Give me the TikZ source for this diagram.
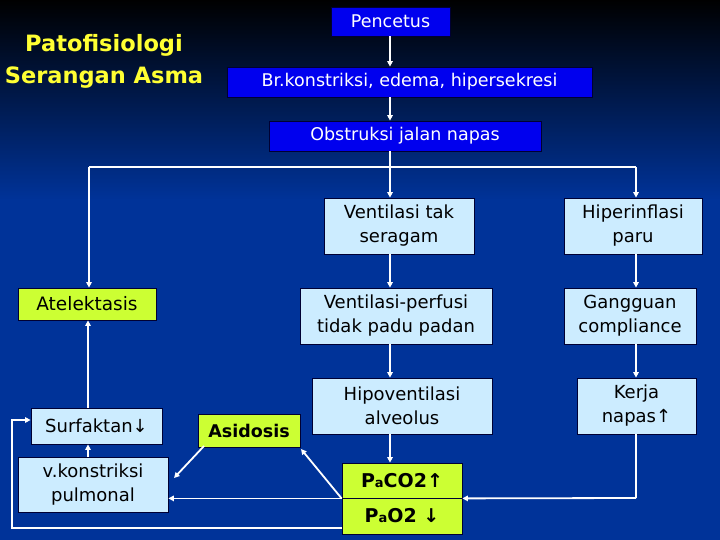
\documentclass[tikz,border=0pt]{standalone}
\usepackage{fontspec}
\setmainfont{DejaVu Sans}
\usetikzlibrary{arrows.meta}
\definecolor{bgblue}{RGB}{0,51,153}
\definecolor{boxblue}{RGB}{0,0,238}
\definecolor{lightbox}{RGB}{204,236,255}
\definecolor{lime}{RGB}{204,255,51}
\definecolor{titleyellow}{RGB}{255,255,51}
\tikzset{
  bluebox/.style={draw=black!80!blue, line width=0.8pt, fill=boxblue, text=white, font=\fontsize{17.5}{20}\selectfont, inner sep=0pt},
  lightbox/.style={draw=black!80!blue, line width=0.8pt, fill=lightbox, text=black, font=\fontsize{18}{24}\selectfont, align=center, inner sep=0pt},
  limebox/.style={draw=black!80!blue, line width=0.8pt, fill=lime, text=black, font=\fontsize{18.5}{22}\selectfont, inner sep=0pt},
  conn/.style={draw=white, line width=1.8pt},
  arr/.style={conn, -{Triangle[length=5.5pt,width=5.5pt]}},
}
\begin{document}
\begin{tikzpicture}[x=1pt,y=-1pt]
\useasboundingbox (0,0) rectangle (720,540);
\shade[top color=black, bottom color=bgblue] (0,0) rectangle (720,200);
\fill[bgblue] (0,199.5) rectangle (720,540);

\node[text=titleyellow, font=\fontsize{22.5}{32}\selectfont\bfseries, align=center] (title) at (104,61) {Patofisiologi\\Serangan Asma};

\node[bluebox, minimum width=119pt, minimum height=29pt] (pen) at (390.5,21.5) {Pencetus};
\node[bluebox, minimum width=365pt, minimum height=30pt] (br) at (409.5,82) {Br.konstriksi, edema, hipersekresi};
\node[bluebox, minimum width=272pt, minimum height=30pt] (obs) at (405,136) {Obstruksi jalan napas};

\node[lightbox, minimum width=150pt, minimum height=56pt] (vts) at (399,226) {Ventilasi tak\\seragam};
\node[lightbox, minimum width=192pt, minimum height=56pt] (vpf) at (396,316) {Ventilasi-perfusi\\tidak padu padan};
\node[lightbox, minimum width=138pt, minimum height=56pt] (hip) at (633,226) {Hiperinflasi\\paru};
\node[lightbox, minimum width=132pt, minimum height=56pt] (gan) at (630,316) {Gangguan\\compliance};
\node[limebox, minimum width=138pt, minimum height=32pt] (ate) at (87,304) {Atelektasis};
\node[lightbox, minimum width=131pt, minimum height=36pt] (sur) at (96.5,426) {Surfaktan↓};
\node[limebox, font=\fontsize{17.5}{20}\selectfont\bfseries, minimum width=102pt, minimum height=33pt] (asi) at (249,430.5) {Asidosis};
\node[lightbox, minimum width=180pt, minimum height=56pt] (hpv) at (402,406) {Hipoventilasi\\alveolus};
\node[lightbox, minimum width=119pt, minimum height=56pt] (ker) at (636.5,406) {Kerja\\napas↑};
\node[lightbox, minimum width=150pt, minimum height=55pt] (vko) at (93,484.5) {v.konstriksi\\pulmonal};
\node[limebox, font=\fontsize{19}{22}\selectfont\bfseries, minimum width=120pt, minimum height=35pt] (pco) at (402,480.5) {P{\fontsize{13}{14}\selectfont a}CO2↑};
\node[limebox, font=\fontsize{19}{22}\selectfont\bfseries, minimum width=120pt, minimum height=36pt] (pao) at (402,516) {P{\fontsize{13}{14}\selectfont a}O2 ↓};

\coordinate (j) at (390,167);
\coordinate (jl) at (89,167);
\coordinate (jr) at (636,167);

\draw[arr] (pen.south -| j) -- (br.north -| j);
\draw[arr] (br.south -| j) -- (obs.north -| j);
\draw[conn] (obs.south -| j) -- (j);
\draw[conn] (jl) -- (jr);
\draw[arr] (j) -- (vts.north -| j);
\draw[arr] (jl) -- (ate.north -| jl);
\draw[arr] (jr) -- (hip.north -| jr);
\draw[arr] (vts.south -| j) -- (vpf.north -| j);
\draw[arr] (vpf.south -| j) -- (hpv.north -| j);
\draw[arr] (hpv.south -| j) -- (pco.north -| j);
\draw[arr] (hip.south -| jr) -- (gan.north -| jr);
\draw[arr] (gan.south -| jr) -- (ker.north -| jr);

\coordinate (sx) at (88,0);
\draw[arr] (sur.north -| sx) -- (ate.south -| sx);
\draw[arr] (vko.north -| sx) -- (sur.south -| sx);

\coordinate (mid) at (pco.south west);
\coordinate (kb) at (636,498);
\draw[conn] (ker.south -| jr) -- (kb);
\draw[arr] (kb) -- (pco.south east);
\draw[arr] (mid) -- (vko.east |- mid);
\coordinate (asiC) at (301,449);
\draw[arr] (mid) -- (asiC);
\coordinate (asiL) at (204,446);
\coordinate (vkoC) at (174,478);
\draw[arr] (asiL) -- (vkoC);
\coordinate (pb) at (342,528);
\coordinate (lp) at (12,420);
\draw[arr] (pb) -| (lp) -- (sur.west |- lp);
\end{tikzpicture}
\end{document}
